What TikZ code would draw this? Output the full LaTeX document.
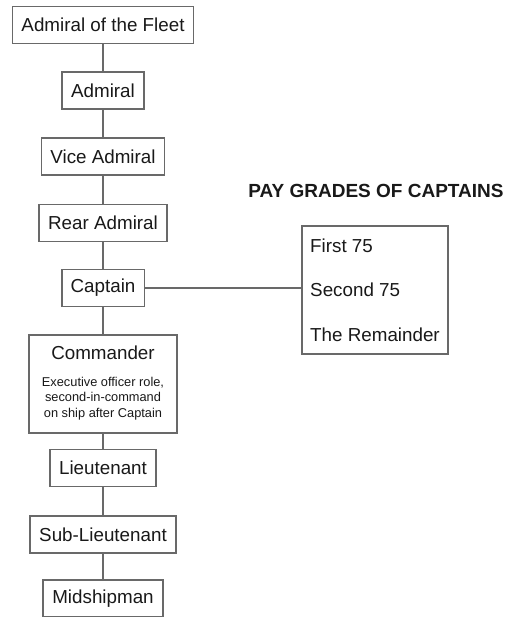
\documentclass[tikz,border=0pt]{standalone}
\usepackage{fontspec}
\setmainfont{Liberation Sans}
\usepackage{xcolor}
\usepackage{tikz}
\usetikzlibrary{positioning}
\definecolor{rule}{RGB}{105,105,105}
\definecolor{ink}{RGB}{25,25,25}

\begin{document}
\begin{tikzpicture}[
  x=1pt,y=-1pt,
  font=\fontsize{18.8}{22}\selectfont,
  rank/.style={draw=rule,line width=1.8pt,fill=white,text=ink,inner xsep=9pt,minimum height=37pt,align=center},
  link/.style={draw=rule,line width=1.8pt},
]
\useasboundingbox (0,0) rectangle (517,617);

% left column: ranks
\node[rank] (fleet) at (103,25) {Admiral of the Fleet};
\node[rank] (admiral) at (103,90.5) {Admiral};
\node[rank] (vice) at (103,156.5) {Vice Admiral};
\node[rank] (rear) at (103,223) {Rear Admiral};
\node[rank] (captain) at (103,288) {Captain};
\node[rank,minimum width=148pt,minimum height=98pt] (commander) at (103,384) {Commander\\[5pt]{\fontsize{12.8}{15.5}\selectfont\begin{tabular}[t]{@{}c@{}}Executive officer role,\\second-in-command\\on ship after Captain\end{tabular}}};
\node[rank] (lieut) at (103,468) {Lieutenant};
\node[rank] (sublieut) at (103,534.5) {Sub-Lieutenant};
\node[rank] (midship) at (103,598.5) {Midshipman};

% right side: pay grades
\node[text=ink,font=\fontsize{19}{22}\selectfont\bfseries] (title) at (376,191) {PAY GRADES OF CAPTAINS};
\node[rank,align=left,inner xsep=8pt,minimum height=128pt,font=\fontsize{18.8}{44.5}\selectfont] (pay) at (375,290) {First 75\\Second 75\\The Remainder};

% lines
\draw[link] (fleet) -- (admiral);
\draw[link] (admiral) -- (vice);
\draw[link] (vice) -- (rear);
\draw[link] (rear) -- (captain);
\draw[link] (captain) -- (commander);
\draw[link] (commander) -- (lieut);
\draw[link] (lieut) -- (sublieut);
\draw[link] (sublieut) -- (midship);
\draw[link] (captain.east) -- (captain.east -| pay.west);

\end{tikzpicture}
\end{document}
